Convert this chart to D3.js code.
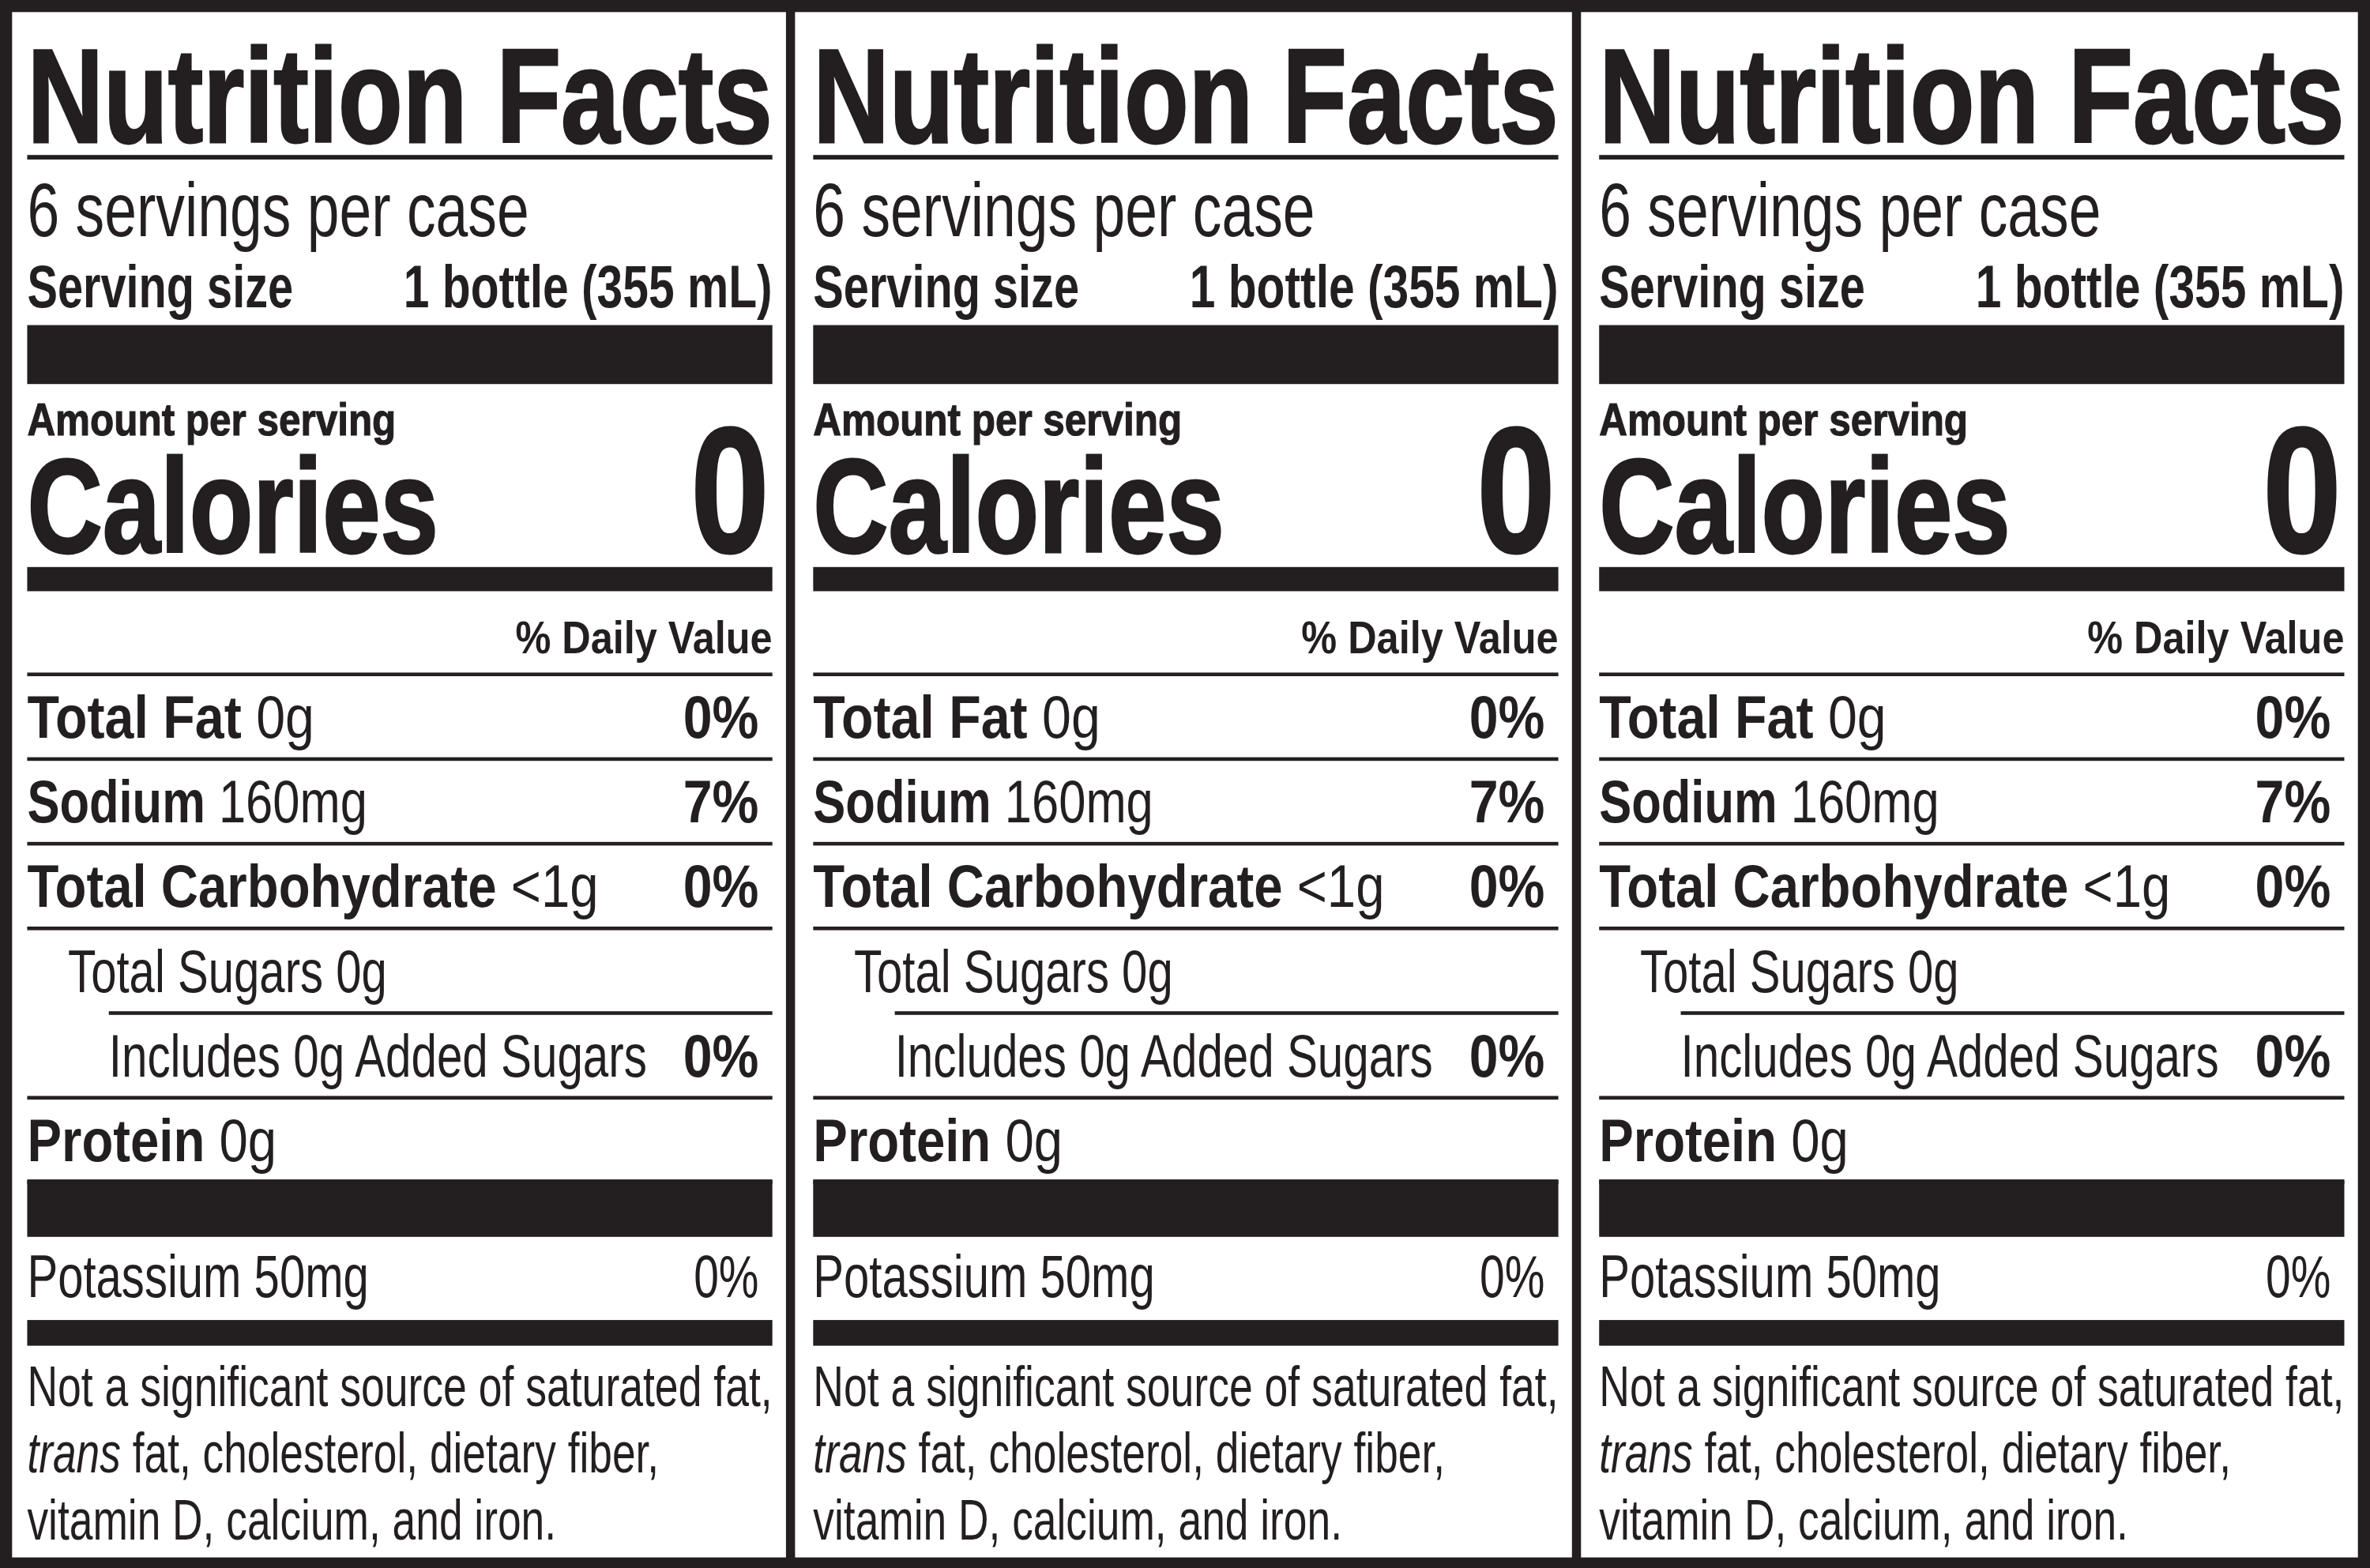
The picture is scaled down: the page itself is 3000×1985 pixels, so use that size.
<!DOCTYPE html>
<html><head><meta charset="utf-8">
<script src="https://cdn.jsdelivr.net/npm/d3@7"></script>
<style>body{margin:0;background:#fff}svg{display:block}</style>
</head><body>
<svg id="chart" width="3000" height="1985"></svg>
<script>
// label content
const panels = [0, 1, 2];
const servingsText = "6 servings per case";
const servingSize = ["Serving size", "1 bottle (355 mL)"];
const calories = "0";
const rowNames = ["Total Fat", "Sodium", "Total Carbohydrate", "Total Sugars 0g", "Includes 0g Added Sugars", "Protein"];
const rowAmounts = [" 0g", " 160mg", " <1g", "", "", " 0g"];
const rowDV = ["0%", "7%", "0%", "", "0%", ""];
const rowIndent = [0, 0, 0, 1, 2, 0];
const rowBold = [true, true, true, false, false, true];
const rowWidth = [190, 225, 378, 211, 356, 165];
const potassium = ["Potassium 50mg", "0%"];
const footnote = [
  [["Not a significant source of saturated fat,", false]],
  [["trans", true], [" fat, cholesterol, dietary fiber,", false]],
  [["vitamin D, calcium, and iron.", false]]
];
const footWidth = [493, 418, 350];

const W = 1568, H = 1037;
const svg = d3.select('#chart');
const root = svg.append('g').attr('transform', `scale(${3000 / W} ${1985 / H})`);
const ink = '#231f20';
const narrow = "'Liberation Sans Narrow', 'Liberation Sans', Arial, sans-serif";

// frame
root.append('rect').attr('x', 0).attr('y', 0).attr('width', W).attr('height', H).attr('fill', ink);
const px = d3.scaleLinear().domain([0, 1]).range([0, 520]);

panels.forEach(p => {
  const g = root.append('g').attr('transform', `translate(${px(p)} 0)`);
  g.append('rect').attr('x', p === 0 ? 8 : 6).attr('y', 8)
    .attr('width', p === 0 ? 512 : 514).attr('height', 1022).attr('fill', '#fff');
  const x0 = 18, x1 = 511, xdv = 502;
  const bar = (y, h, xs = x0) => g.append('rect').attr('x', xs).attr('y', y).attr('width', x1 - xs).attr('height', h).attr('fill', ink);
  const txt = (s, x, y, size, weight, anchor, len) => {
    const t = g.append('text').attr('x', x).attr('y', y).attr('font-family', narrow)
      .attr('font-size', size).attr('font-weight', weight).attr('fill', ink)
      .attr('text-anchor', anchor || 'start').text(s);
    if (len) t.attr('textLength', len).attr('lengthAdjust', 'spacingAndGlyphs');
    return t;
  };

  txt("Nutrition Facts", x0, 94, 88, 'bold', 'start', 493).attr('stroke', ink).attr('stroke-width', 1.5);
  bar(102.5, 3);
  txt(servingsText, x0, 156, 50, 'normal', 'start', 332);
  txt(servingSize[0], x0, 203, 40, 'bold', 'start', 176);
  txt(servingSize[1], x1, 203, 40, 'bold', 'end', 244);
  bar(215, 39);
  txt("Amount per serving", x0, 288, 30, 'bold', 'start', 244).attr('stroke', ink).attr('stroke-width', 0.6);
  txt("Calories", x0, 365, 88, 'bold', 'start', 272).attr('stroke', ink).attr('stroke-width', 1.5);
  txt(calories, x1 - 2, 365, 118, 'bold', 'end', 52).attr('stroke', ink).attr('stroke-width', 1.5);
  bar(375, 16);
  txt("% Daily Value", x1, 432, 30, 'bold', 'end', 170);

  const y = d3.scaleLinear().domain([0, 1]).range([446, 502]);
  rowNames.forEach((name, i) => {
    const indentX = x0 + rowIndent[i] * 27;
    bar(y(i) - 1.2, 2.4, i === 4 ? 72 : x0);
    const t = g.append('text').attr('x', indentX).attr('y', y(i) + 42)
      .attr('font-family', narrow).attr('font-size', 40).attr('fill', ink)
      .attr('textLength', rowWidth[i]).attr('lengthAdjust', 'spacingAndGlyphs');
    t.append('tspan').attr('font-weight', rowBold[i] ? 'bold' : 'normal').text(name);
    t.append('tspan').text(rowAmounts[i]);
    if (rowDV[i]) txt(rowDV[i], xdv, y(i) + 42, 40, 'bold', 'end', 50);
  });
  bar(y(6) - 1.2, 2.4);
  bar(780, 38);
  txt(potassium[0], x0, 858, 40, 'normal', 'start', 226);
  txt(potassium[1], xdv, 858, 40, 'normal', 'end', 43);
  bar(873, 17);
  footnote.forEach((parts, i) => {
    const t = g.append('text').attr('x', x0).attr('y', 930 + i * 44)
      .attr('font-family', narrow).attr('font-size', 38).attr('fill', ink)
      .attr('textLength', footWidth[i]).attr('lengthAdjust', 'spacingAndGlyphs');
    parts.forEach(([s, it]) => t.append('tspan').attr('font-style', it ? 'italic' : 'normal').text(s));
  });
});
</script>
</body></html>
